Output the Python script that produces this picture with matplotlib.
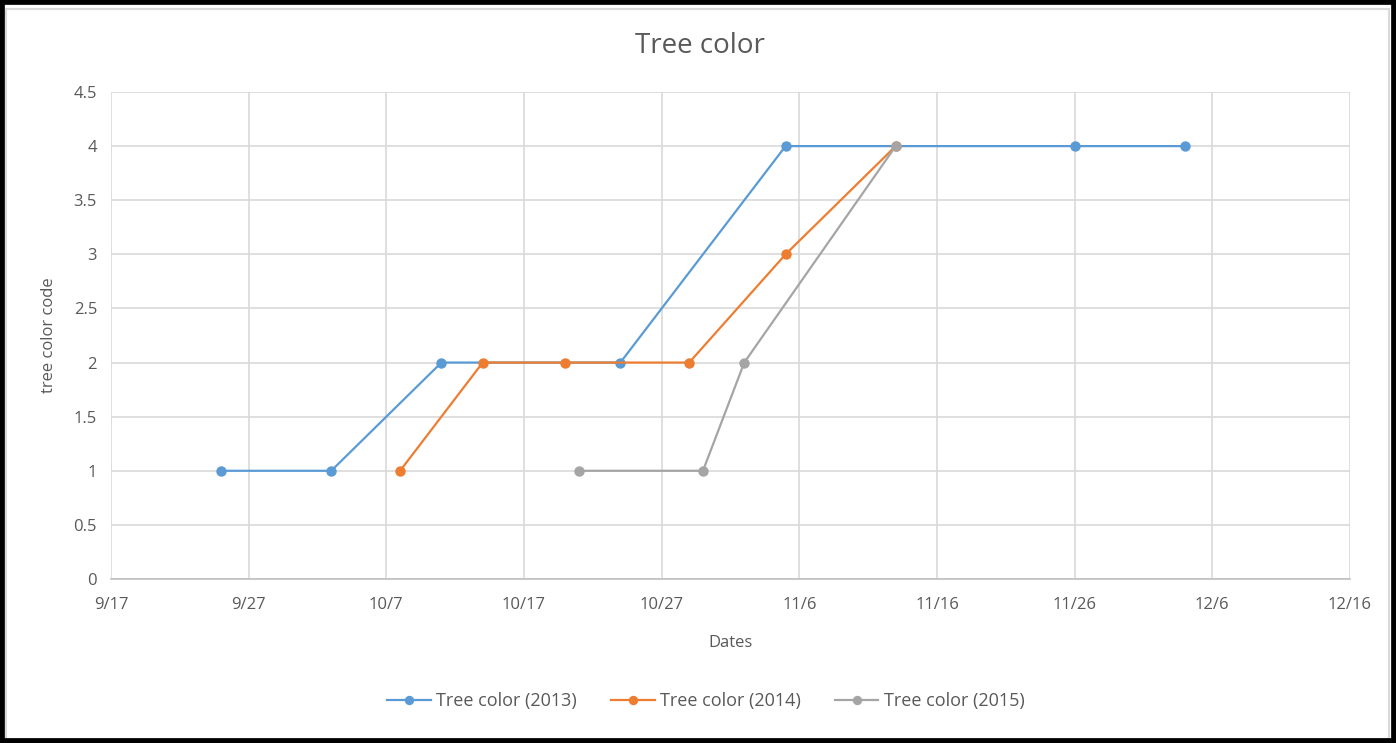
import matplotlib
matplotlib.use("Agg")
import matplotlib.pyplot as plt
import matplotlib.dates as mdates
from matplotlib.patches import Rectangle
from datetime import datetime, timedelta

plt.rcParams['font.family'] = ['Open Sans', 'DejaVu Sans']

# Data (all seasons mapped onto a common year for the date axis)
dates_2013 = ["2013-09-25", "2013-10-03", "2013-10-11", "2013-10-24", "2013-11-05", "2013-11-26", "2013-12-04"]
vals_2013 = [1, 1, 2, 2, 4, 4, 4]
dates_2014 = ["2013-10-08", "2013-10-14", "2013-10-20", "2013-10-29", "2013-11-05", "2013-11-13"]
vals_2014 = [1, 2, 2, 2, 3, 4]
dates_2015 = ["2013-10-21", "2013-10-30", "2013-11-02", "2013-11-13"]
vals_2015 = [1, 1, 2, 4]
labels = ["Tree color (2013)", "Tree color (2014)", "Tree color (2015)"]
colors = ["#5B9BD5", "#ED7D31", "#A5A5A5"]

def todt(lst):
    return [datetime.strptime(s, "%Y-%m-%d") for s in lst]

W, H = 1396, 743
fig = plt.figure(figsize=(W / 100, H / 100), dpi=100)
ax = fig.add_axes([111 / W, (H - 579) / H, (1350 - 111) / W, (579 - 92) / H])

for d, v, lab, c in zip([dates_2013, dates_2014, dates_2015],
                        [vals_2013, vals_2014, vals_2015], labels, colors):
    ax.plot(todt(d), v, color=c, lw=1.6, marker='o', markersize=7.5,
            markeredgewidth=0, label=lab, zorder=3)

start = datetime(2013, 9, 17)
ticks = [start + timedelta(days=10 * i) for i in range(10)]
ax.set_xlim(mdates.date2num(ticks[0]), mdates.date2num(ticks[-1]))
ax.set_xticks([mdates.date2num(t) for t in ticks])
ax.set_xticklabels([f"{t.month}/{t.day}" for t in ticks])
ax.set_ylim(0, 4.5)
ax.set_yticks([0, 0.5, 1, 1.5, 2, 2.5, 3, 3.5, 4, 4.5])
ax.set_yticklabels(["0", "0.5", "1", "1.5", "2", "2.5", "3", "3.5", "4", "4.5"])

ax.grid(True, color="#D9D9D9", lw=1.2)
ax.set_axisbelow(True)
for s in ["top", "right", "left"]:
    ax.spines[s].set_visible(False)
ax.spines["bottom"].set_color("#BFBFBF")
ax.spines["bottom"].set_linewidth(1.2)
ax.tick_params(axis='both', length=0, colors="#595959", labelsize=12)
ax.tick_params(axis='x', pad=13)
ax.tick_params(axis='y', pad=10)

ax.set_xlabel("Dates", color="#595959", fontsize=12, labelpad=16)
ax.set_ylabel("tree color code", color="#595959", fontsize=12, labelpad=12)

fig.text(700 / W, 1 - 46 / H, "Tree color", ha='center', va='center',
         fontsize=20, color="#595959")

leg = fig.legend(loc='center', bbox_to_anchor=(706 / W, 1 - 701 / H), ncol=3,
                 frameon=False, fontsize=13, handlelength=2.4, handletextpad=0.3,
                 columnspacing=1.9, labelcolor="#595959", markerscale=0.9)

# inner light-gray chart border and outer black frame
fig.patches.append(Rectangle((6 / W, 4 / H), (W - 13) / W, (H - 13) / H,
                             transform=fig.transFigure, fill=False,
                             edgecolor="#D9D9D9", lw=1.5))
fig.patches.append(Rectangle((0, 0), 1, 1, transform=fig.transFigure, fill=False,
                             edgecolor="black", lw=7))

fig.savefig("out.png", dpi=100)
